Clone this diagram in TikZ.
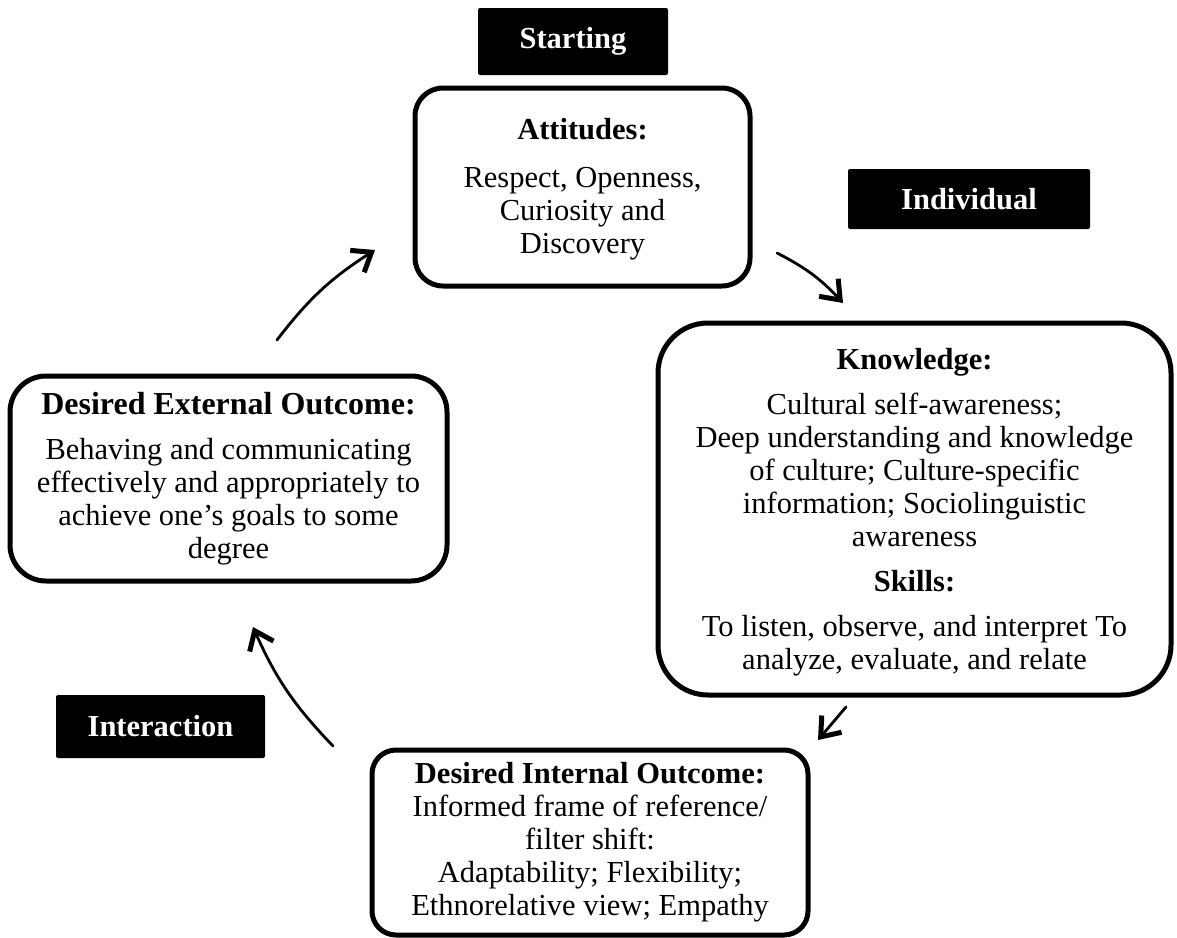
\documentclass[tikz,border=0pt]{standalone}
\usepackage{fontspec}
\setmainfont{Liberation Serif}
\usetikzlibrary{arrows.meta,positioning}

\tikzset{
    kasten/.style={draw, line width=2.5pt, rounded corners=#1, align=center,
        font=\fontsize{15.25}{16.5}\selectfont, inner sep=0pt},
    kasten/.default=17pt,
    etikett/.style={fill=black, text=white, rounded corners=1pt, inner sep=0pt,
        font=\fontsize{15.25}{16.5}\selectfont\bfseries},
    pfeil/.style={line width=1.4pt, line cap=round,
        -{Straight Barb[length=8.5pt, width=13pt, line width=2.5pt]}}
}

\begin{document}
\begin{tikzpicture}[x=0.5pt, y=-0.5pt]
    \useasboundingbox (0,0) rectangle (1177,937);
    % phase labels
    \path node[etikett, minimum width=95pt, minimum height=33.5pt] (start) at (573,41.5) {Starting}
        node[etikett, minimum width=121pt, minimum height=30pt] (indiv) at (969,199) {Individual}
        node[etikett, minimum width=104.5pt, minimum height=31.5pt] (inter) at (160.5,726.5) {Interaction};
    % boxes
    \node[kasten=14pt, minimum width=167.5pt, minimum height=99pt] (att) at (582.5,187)
        {\rule{0pt}{13pt}\textbf{Attitudes:}\\[7.5pt] Respect, Openness,\\ Curiosity and\\ Discovery};
    \node[kasten=25pt, minimum width=256.5pt, minimum height=186pt] (know) at (914.5,509)
        {\rule{0pt}{14pt}\textbf{Knowledge:}\\[6pt] Cultural self-awareness;\\ Deep understanding and knowledge\\
         of culture; Culture-specific\\ information; Sociolinguistic\\ awareness\\[6pt]
         \textbf{Skills:}\\[6pt] To listen, observe, and interpret To\\ analyze, evaluate, and relate};
    \node[kasten=18pt, minimum width=218.5pt, minimum height=102.5pt] (ext) at (228.5,478.5)
        {{\fontsize{16}{16.5}\selectfont\bfseries Desired External Outcome:}\\[6pt] Behaving and communicating\\
         effectively and appropriately to\\ achieve one’s goals to some\\ degree};
    \node[kasten=12pt, minimum width=218pt, minimum height=92.5pt] (intern) at (590,842.5)
        {\textbf{Desired Internal Outcome:}\\ Informed frame of reference/\\ filter shift:\\
         Adaptability; Flexibility;\\ Ethnorelative view; Empathy};
    % arrows
    \coordinate (p1a) at (277,340);
    \coordinate (p1b) at (375,250);
    \coordinate (p2a) at (777,253);
    \coordinate (p2b) at (843,303);
    \coordinate (p3a) at (846,707);
    \coordinate (p3b) at (818,740);
    \coordinate (p4a) at (333,746);
    \coordinate (p4b) at (253,627);
    \draw[pfeil] (p1a) to[bend left=10] (p1b);
    \draw[pfeil] (p2a) to[bend left=10] (p2b);
    \draw[pfeil] (p3a) -- (p3b);
    \draw[pfeil] (p4a) to[bend left=10] (p4b);
\end{tikzpicture}
\end{document}
